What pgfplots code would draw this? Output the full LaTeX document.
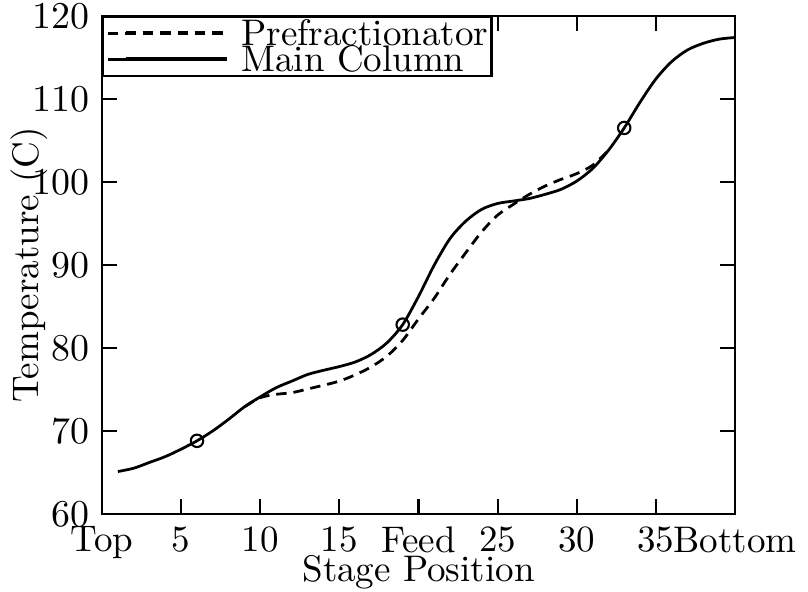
\documentclass[border=0pt]{standalone}
\usepackage{pgfplots}
\pgfplotsset{compat=1.18}
\begin{document}
\fontsize{10.7}{12.8}\selectfont
\begin{tikzpicture}
\begin{axis}[
  scale only axis, width=182.9pt, height=143.9pt,
  xmin=0, xmax=40, ymin=60, ymax=120,
  xtick={0,5,...,40},
  xticklabels={Top,5,10,15,Feed,25,30,35,Bottom},
  ytick={60,70,...,120},
  axis line style={line width=0.6pt},
  every tick/.style={line width=0.6pt, black},
  xlabel={Stage Position},
  ylabel={Temperature (C)},
  xlabel style={at={(axis description cs:0.5,-0.082)}, anchor=north, inner sep=0pt},
  ylabel style={at={(axis description cs:-0.115,0.5)}, anchor=center, inner sep=0pt},
  legend style={at={(0,1)}, anchor=north west, inner sep=1.0pt, draw=black, line width=0.6pt, row sep=0pt, column sep=3.7pt, nodes={inner sep=0pt, text height=7.2pt, text depth=0.3pt}},
  legend cell align=left,
  legend image code/.code={\path (0pt,0pt) -- (5.1pt,0pt); \draw[#1, line width=1.1pt] (5.1pt,0pt) -- (34.3pt,0pt);},
]
\addplot[black, line width=0.8pt, dash pattern=on 3pt off 2pt, smooth] coordinates {
(9,72.9)(10,74.0)(11,74.4)(12,74.6)(13,75.05)(14,75.5)(15,76.0)(16,76.75)(17,77.7)(18,79.0)(19,80.9)(20,83.5)(21,86.0)(22,88.9)(23,91.5)(24,94.0)(25,96.0)(26,97.3)(27,98.5)(28,99.5)(29,100.3)(30,101.0)(31,102.0)(32,103.8)
};
\addlegendentry{Prefractionator}
\addplot[black, line width=0.8pt, smooth] coordinates {
(1,65.1)(2,65.5)(3,66.2)(4,66.9)(5,67.8)(6,68.8)(7,70.0)(8,71.4)(9,72.9)(10,74.1)(11,75.2)(12,76.0)(13,76.8)(14,77.3)(15,77.75)(16,78.3)(17,79.2)(18,80.6)(19,82.8)(20,86.2)(21,90.0)(22,93.2)(23,95.3)(24,96.7)(25,97.4)(26,97.7)(27,98.0)(28,98.5)(29,99.1)(30,100.1)(31,101.6)(32,103.8)(33,106.5)(34,109.6)(35,112.4)(36,114.5)(37,115.9)(38,116.7)(39,117.2)(40,117.4)
};
\addlegendentry{Main Column}
\addplot[only marks, mark=o, mark size=1.8pt, black, mark options={line width=0.6pt}, forget plot] coordinates {(6,68.8)(19,82.8)(33,106.5)};
\end{axis}
\pgfresetboundingbox
\useasboundingbox (-29.5pt,-22.3pt) rectangle (204pt,148.5pt);
\end{tikzpicture}
\end{document}
